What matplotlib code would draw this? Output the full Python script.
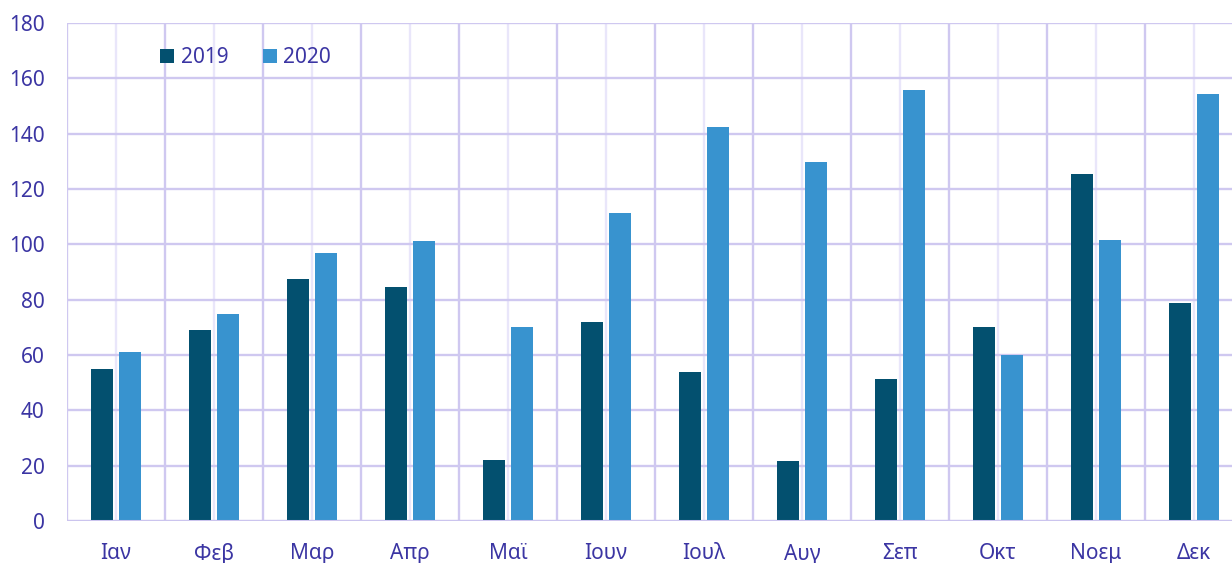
import matplotlib.pyplot as plt
import numpy as np

months = ["Ιαν", "Φεβ", "Μαρ", "Απρ", "Μαϊ", "Ιουν", "Ιουλ", "Αυγ", "Σεπ", "Οκτ", "Νοεμ", "Δεκ"]
vals_2019 = [55, 69, 87.5, 84.6, 22, 71.9, 53.8, 21.7, 51.3, 70.1, 125.4, 78.8]
vals_2020 = [61.1, 74.8, 96.9, 101.2, 70.1, 111.3, 142.4, 129.7, 155.8, 60, 101.6, 154.3]
yticks = list(range(0, 181, 20))

text_col = "#3b35a3"
dark = "#03506f"
light = "#3893cf"

plt.rcParams["font.family"] = ["Noto Sans", "DejaVu Sans"]

fig = plt.figure(figsize=(12.32, 5.63), dpi=100)
ax = fig.add_axes([67 / 1232, 42 / 563, 12 * 98 / 1232, 498 / 563])

x = np.arange(len(months))
w = 0.224
off = 0.143
ax.bar(x - off, vals_2019, w, color=dark, label="2019", zorder=3)
ax.bar(x + off, vals_2020, w, color=light, label="2020", zorder=3)

ax.set_xlim(-0.5, len(months) - 0.5)
ax.set_ylim(0, 180)
ax.set_yticks(yticks)
ax.set_xticks(x)
ax.set_xticklabels(months)
ax.set_xticks(np.arange(-0.5, len(months), 1), minor=True)

ax.grid(axis="y", color="#cfc8f0", linewidth=1.7, zorder=0)
ax.grid(axis="x", which="minor", color="#cfc8f0", linewidth=1.7, zorder=0)
ax.grid(axis="x", which="major", color="#e9e6fa", linewidth=1.7, zorder=0)

for s in ax.spines.values():
    s.set_visible(False)
ax.axhline(0, color="#cbc4ee", linewidth=2.2, zorder=4)

ax.tick_params(axis="both", which="both", length=0, labelsize=15, labelcolor=text_col)
ax.tick_params(axis="y", pad=16)
ax.tick_params(axis="x", pad=16)

ax.legend(loc="center left", bbox_to_anchor=(141 / 1232, 1 - 58 / 563),
          bbox_transform=fig.transFigure, ncol=2, frameon=False,
          fontsize=15, labelcolor=text_col, handlelength=0.7, handleheight=0.7,
          handletextpad=0.3, columnspacing=1.65)

fig.savefig("out.png", dpi=100)
